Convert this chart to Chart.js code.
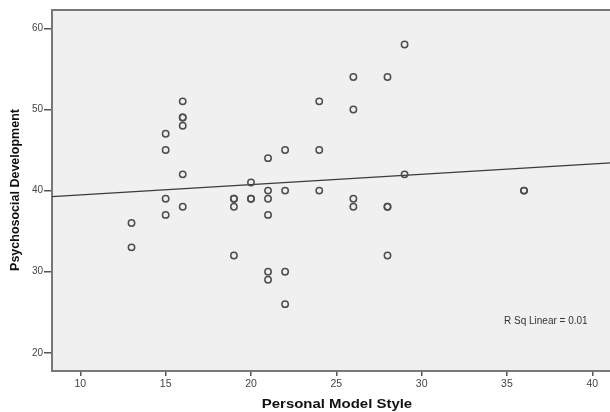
<!DOCTYPE html>
<html>
<head>
<meta charset="utf-8">
<script src="https://cdn.jsdelivr.net/npm/chart.js@4/dist/chart.umd.min.js"></script>
<style>
  html, body { margin: 0; padding: 0; background: #ffffff; overflow: hidden; }
  #wrap { width: 610px; height: 412px; overflow: hidden; position: relative; }
  #c { position: absolute; left: 0; top: 0; }
</style>
</head>
<body>
<div id="wrap"><canvas id="c" width="640" height="412"></canvas></div>
<script>
// Personal Model Style (x) and Psychosocial Development (y) for each case
const styleScores = [13,13,15,15,15,15,16,16,16,16,16,16,19,19,19,19,20,20,20,21,21,21,21,21,21,22,22,22,22,24,24,24,26,26,26,26,28,28,28,28,29,29,36,36];
const devScores   = [36,33,47,45,39,37,51,49,49,48,42,38,39,39,38,32,41,39,39,44,40,39,37,30,29,45,40,30,26,51,45,40,54,50,39,38,54,38,38,32,58,42,40,40];
// Fit line end points
const fitX = [8.34, 41.8];
const fitY = [39.25, 43.5];
// Tick labels
const xTicks = [10, 15, 20, 25, 30, 35, 40];
const yTicks = [20, 30, 40, 50, 60];
const xTitle = 'Personal Model Style';
const yTitle = 'Psychosocial Development';
const rsqText = 'R Sq Linear = 0.01';

const points = styleScores.map((x, i) => ({ x: x, y: devScores[i] }));
const fitLine = fitX.map((x, i) => ({ x: x, y: fitY[i] }));

const decor = {
  id: 'decor',
  beforeDraw(chart) {
    const { ctx, chartArea: a } = chart;
    ctx.save();
    ctx.fillStyle = '#f0f0f0';
    ctx.fillRect(a.left, a.top, a.right - a.left, a.bottom - a.top);
    ctx.restore();
  },
  afterDraw(chart) {
    const { ctx, chartArea: a } = chart;
    ctx.save();
    // top frame line
    ctx.strokeStyle = '#777777';
    ctx.lineWidth = 2;
    ctx.beginPath();
    ctx.moveTo(a.left - 1, a.top);
    ctx.lineTo(a.right, a.top);
    ctx.stroke();
    // axis titles
    ctx.fillStyle = '#111111';
    ctx.textAlign = 'center';
    ctx.textBaseline = 'middle';
    ctx.font = 'bold 13px "Liberation Sans", Arial, sans-serif';
    ctx.save();
    ctx.translate(337, 404);
    ctx.scale(1.15, 1);
    ctx.fillText(xTitle, 0, 0);
    ctx.restore();
    ctx.save();
    ctx.translate(16, 190);
    ctx.rotate(-Math.PI / 2);
    ctx.font = 'bold 12.5px "Liberation Sans", Arial, sans-serif';
    ctx.fillText(yTitle, 0, 0);
    ctx.restore();
    // R squared note
    ctx.fillStyle = '#333333';
    ctx.textAlign = 'left';
    ctx.font = '10px "Liberation Sans", Arial, sans-serif';
    ctx.fillText(rsqText, 504, 321);
    ctx.restore();
  }
};

new Chart(document.getElementById('c'), {
  type: 'scatter',
  data: {
    datasets: [
      {
        type: 'line',
        data: fitLine,
        borderColor: '#3a3a3a',
        borderWidth: 1.3,
        pointRadius: 0,
        fill: false,
        order: 2
      },
      {
        data: points,
        pointRadius: 3.2,
        pointBorderWidth: 1.5,
        pointBorderColor: '#4d4d4d',
        pointBackgroundColor: 'rgba(0,0,0,0)',
        order: 1
      }
    ]
  },
  options: {
    responsive: false,
    animation: false,
    devicePixelRatio: 1,
    layout: { padding: { left: 0, right: 17, top: 10, bottom: 0 } },
    plugins: { legend: { display: false }, tooltip: { enabled: false } },
    scales: {
      x: {
        type: 'linear',
        min: 8.34,
        max: 41.8,
        afterBuildTicks: s => { s.ticks = xTicks.map(v => ({ value: v })); },
        afterFit: s => { s.height = 41; },
        grid: { drawOnChartArea: false, drawTicks: true, tickLength: 5, color: '#555555', lineWidth: 1.5 },
        border: { display: true, color: '#777777', width: 2 },
        ticks: { color: '#444444', padding: 2, font: { family: '"Liberation Sans", Arial, sans-serif', size: 10.5 }, maxRotation: 0 }
      },
      y: {
        type: 'linear',
        min: 17.76,
        max: 62.26,
        afterBuildTicks: s => { s.ticks = yTicks.map(v => ({ value: v })); },
        afterFit: s => { s.width = 52; },
        grid: { drawOnChartArea: false, drawTicks: true, tickLength: 8, color: '#555555', lineWidth: 1.5 },
        border: { display: true, color: '#777777', width: 2 },
        ticks: { color: '#444444', padding: 1, font: { family: '"Liberation Sans", Arial, sans-serif', size: 10 } }
      }
    }
  },
  plugins: [decor]
});
</script>
</body>
</html>
